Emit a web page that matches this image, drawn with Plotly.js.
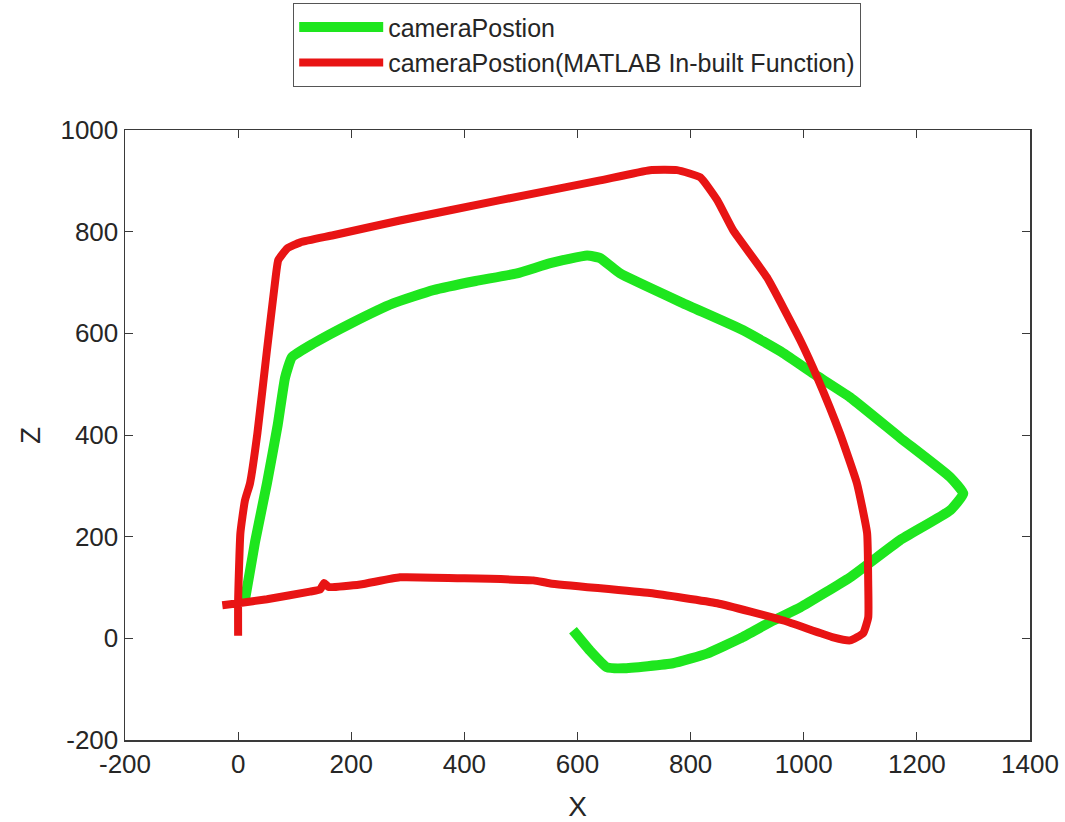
<!DOCTYPE html>
<html>
<head>
<meta charset="utf-8">
<script src="https://cdn.plot.ly/plotly-3.0.1.min.js"></script>
<style>html,body{margin:0;padding:0;background:#fff;}#chart{width:1065px;height:822px;}</style>
</head>
<body>
<div id="chart"></div>
<script>
// Series names
const seriesNames = ["cameraPostion", "cameraPostion(MATLAB In-built Function)"];

// cameraPostion (green)
const greenX = [12, 30, 51, 70, 83, 95, 133, 200, 274, 345, 420, 493, 552, 617, 640, 675, 787, 893, 964, 1017, 1082, 1170, 1259, 1282, 1259, 1170, 1082, 994, 946, 888, 829, 769, 681, 652, 622, 592];
const greenZ = [75, 190, 305, 420, 513, 553, 580, 620, 659, 685, 703, 718, 738, 753, 748, 718, 659, 606, 561, 521, 474, 395, 317, 285, 252, 193, 120, 61, 35, 0, -30, -49, -59, -57, -24, 16];

// cameraPostion (MATLAB In-built Function) (red)
const redX = [0, 0, 4, 12, 21, 34, 51, 65, 71, 87, 110, 168, 286, 463, 640, 728, 776, 817, 847, 875, 935, 994, 1024, 1064, 1094, 1112, 1114, 1114, 1105, 1082, 1052, 964, 847, 728, 552, 522, 400, 286, 216, 160, 152, 145, 127, 51, 0, -28];
const redZ = [5, 75, 207, 271, 305, 403, 567, 698, 744, 767, 779, 793, 822, 862, 901, 921, 921, 907, 862, 803, 710, 586, 513, 403, 305, 207, 108, 41, 10, -4, 2, 35, 69, 89, 108, 114, 118, 120, 106, 101, 109, 96, 92, 77, 69, 65];

// Axis ticks and titles
const xTicks = [-200, 0, 200, 400, 600, 800, 1000, 1200, 1400];
const zTicks = [-200, 0, 200, 400, 600, 800, 1000];
const xTitle = 'X';
const zTitle = 'Z';

const axisColor = '#3a3a3a';
const textColor = '#262626';
const fontFam = 'Liberation Sans, Arial, sans-serif';

const traces = [
  {x: greenX, y: greenZ, name: seriesNames[0], type: 'scatter', mode: 'lines',
   line: {color: '#1ee61e', width: 10, shape: 'spline', smoothing: 0.4}},
  {x: redX, y: redZ, name: seriesNames[1], type: 'scatter', mode: 'lines',
   line: {color: '#e81414', width: 8, shape: 'spline', smoothing: 0.4}}
];

const axisCommon = {
  showgrid: false, zeroline: false, showline: true, linecolor: axisColor, linewidth: 1.5,
  mirror: 'ticks', ticks: 'inside', ticklen: 8, tickwidth: 1, tickcolor: axisColor,
  tickfont: {family: fontFam, size: 26, color: textColor}
};

const layout = {
  width: 1065, height: 822,
  paper_bgcolor: '#fff', plot_bgcolor: '#fff',
  margin: {l: 125, r: 35, t: 130, b: 82, autoexpand: false},
  showlegend: true,
  legend: {
    x: 293 / 1065, y: 1 - 3 / 822, xref: 'container', yref: 'container', xanchor: 'left', yanchor: 'top',
    orientation: 'v', bgcolor: '#fff', bordercolor: '#555', borderwidth: 1.2,
    font: {family: fontFam, size: 25, color: textColor},
    itemwidth: 84, tracegroupgap: 0
  },
  xaxis: Object.assign({}, axisCommon, {
    range: [-200, 1400], tickvals: xTicks, ticktext: xTicks.map(String), tickangle: 0,
    title: {text: xTitle, font: {family: fontFam, size: 28, color: textColor}}
  }),
  yaxis: Object.assign({}, axisCommon, {
    range: [-200, 1000], tickvals: zTicks, ticktext: zTicks.map(String)
  }),
  annotations: [{
    text: zTitle, xref: 'paper', yref: 'paper', x: -0.105, y: 0.5,
    xanchor: 'center', yanchor: 'middle', showarrow: false, textangle: -90,
    font: {family: fontFam, size: 28, color: textColor}
  }]
};

Plotly.newPlot('chart', traces, layout, {displayModeBar: false, staticPlot: true});
</script>
</body>
</html>
